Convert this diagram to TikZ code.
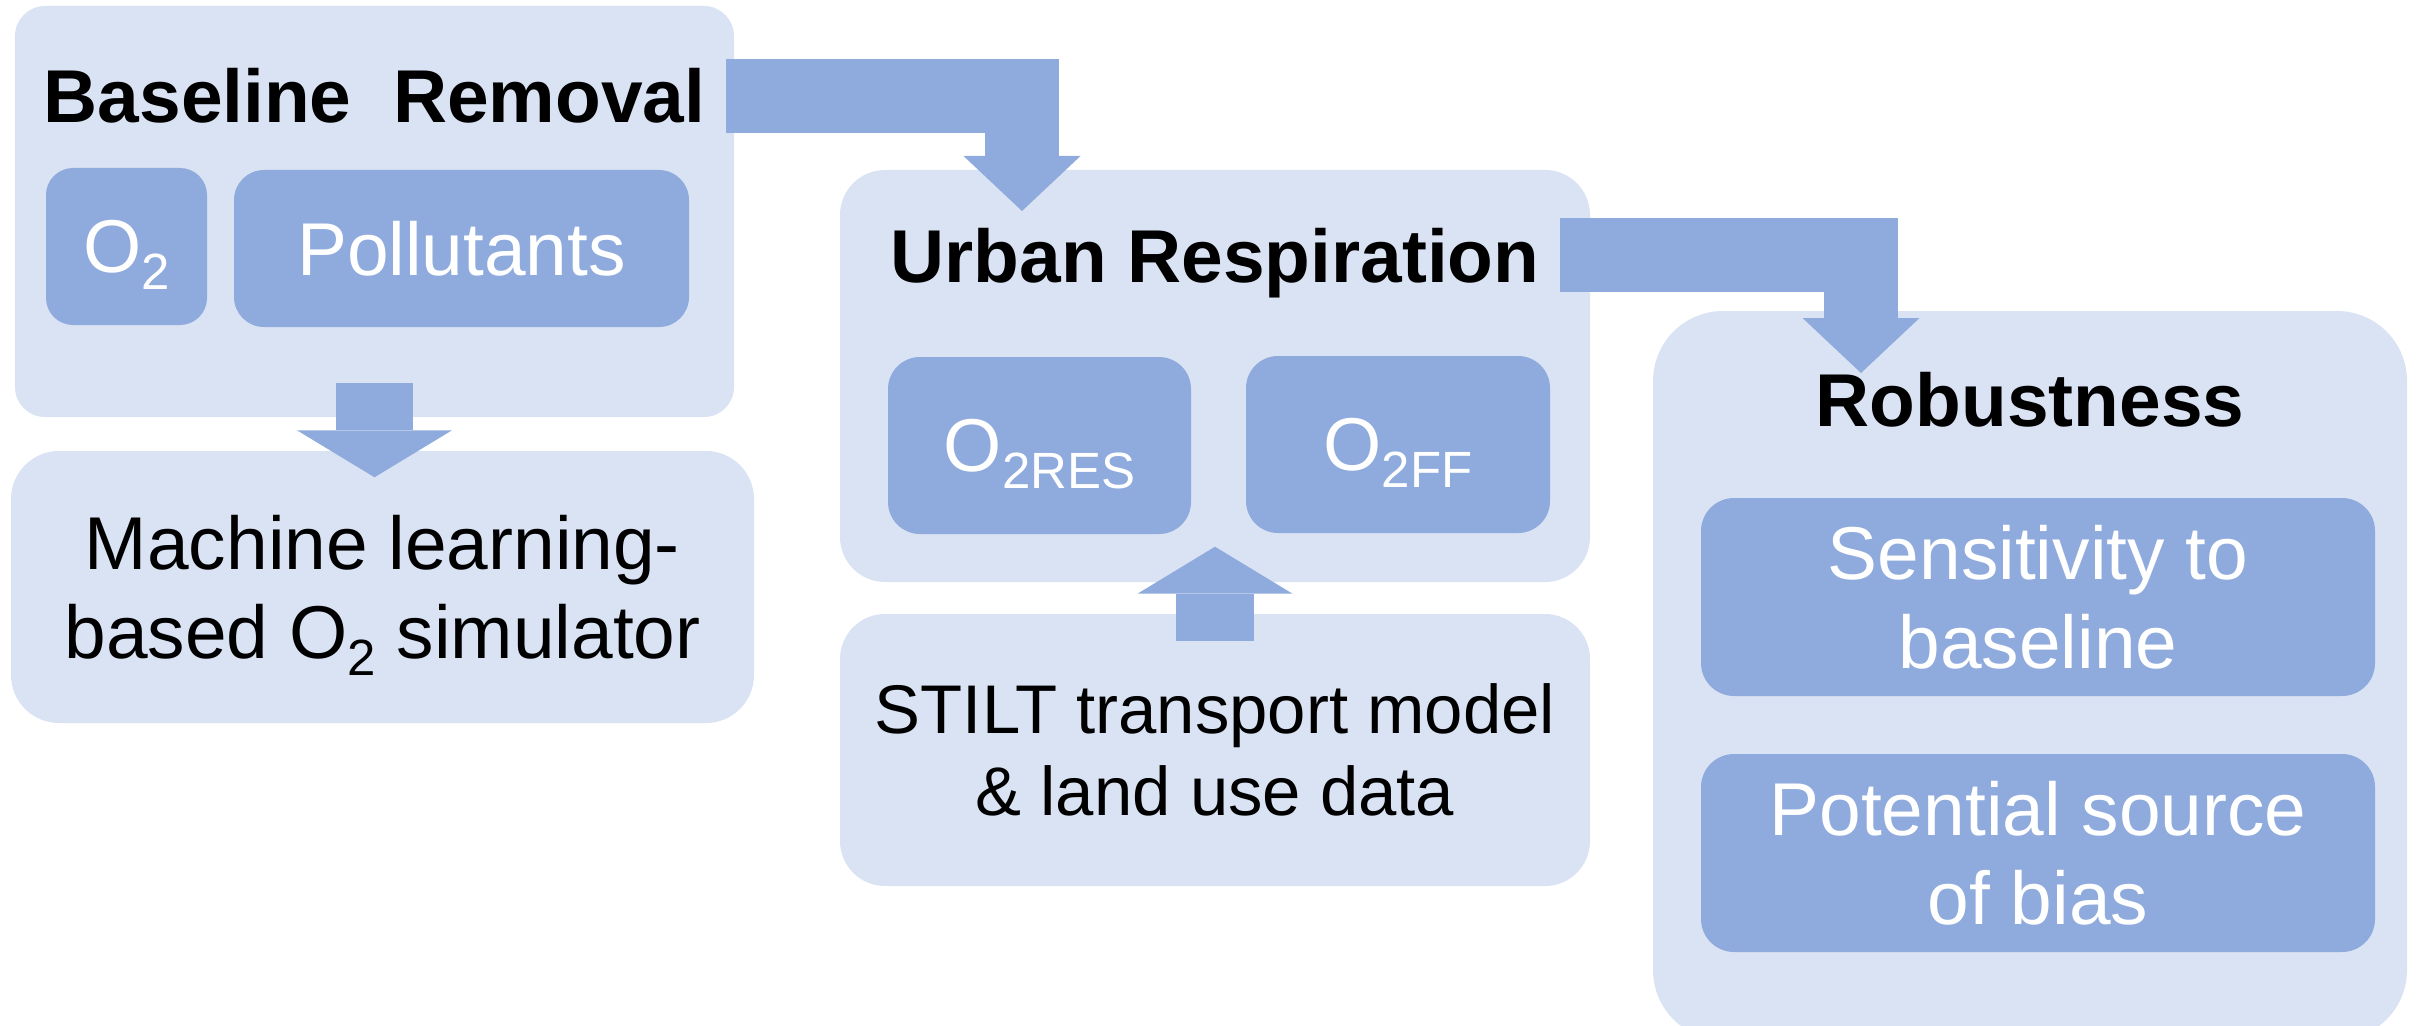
\documentclass[tikz,border=0pt]{standalone}
\usepackage{fontspec}
\setmainfont{Liberation Sans}
\usetikzlibrary{arrows.meta}
\definecolor{paleblue}{HTML}{DAE3F3}
\definecolor{midblue}{HTML}{8FAADC}
% lowered index, e.g. O_2
\newcommand{\lowidx}[1]{\raisebox{-5pt}[0pt][0pt]{\fontsize{14.5pt}{14.5pt}\selectfont #1}}

\begin{document}
\begin{tikzpicture}[
    outerbox/.style={fill=paleblue, inner sep=0pt},
    textbox/.style={outerbox, align=center, font=\fontsize{21.3pt}{25.3pt}\selectfont},
    innerbox/.style={fill=midblue, text=white, inner sep=0pt, align=center,
        font=\fontsize{21.3pt}{25.3pt}\selectfont},
    heading/.style={anchor=base, text depth=0pt, inner xsep=0.2cm,
        font=\fontsize{21.3pt}{25.3pt}\selectfont\bfseries},
    bigarrow/.style={draw=midblue, line width=0.74cm,
        -{Triangle[width=1.17cm,length=0.55cm,line width=0pt]}},
    uparrow/.style={draw=midblue, line width=0.775cm,
        -{Triangle[width=1.55cm,length=0.47cm,line width=0pt]}}
]
    \useasboundingbox (0,0) rectangle (24.2,-10.25);

    % containers
    \node[outerbox, rounded corners=0.3cm, minimum width=7.19cm, minimum height=4.11cm] (br) at (3.745,-2.115) {};
    \node[textbox, rounded corners=0.48cm, minimum width=7.43cm, minimum height=2.72cm] (ml) at (3.825,-5.87)
        {Machine learning-\\based O\lowidx{2} simulator};
    \node[outerbox, rounded corners=0.45cm, minimum width=7.5cm, minimum height=4.12cm] (ur) at (12.15,-3.76) {};
    \node[textbox, rounded corners=0.45cm, minimum width=7.5cm, minimum height=2.72cm,
        font=\fontsize{19.6pt}{23.3pt}\selectfont] (st) at (12.15,-7.5)
        {STILT transport model\\\& land use data};
    \node[outerbox, rounded corners=0.7cm, minimum width=7.54cm, minimum height=7.29cm] (rb) at (20.3,-6.755) {};

    % headings
    \node[heading] (brt) at (3.745,-1.23) {Baseline\ \ Removal};
    \node[heading] (urt) at (12.15,-2.82) {Urban Respiration};
    \node[heading] (rbt) at (20.3,-4.26) {Robustness};

    % arrows
    \coordinate (in1) at (10.22,-2.11);
    \coordinate (in2) at (18.61,-3.73);
    \draw[bigarrow] (brt.east) -| (in1);
    \draw[bigarrow] (urt.east) -| (in2);
    \draw[uparrow, shorten <=-0.35cm, shorten >=-0.27cm] (br.south) -- (br.south |- ml.north);
    \draw[uparrow, shorten <=-0.28cm, shorten >=-0.36cm] (st.north) -- (ur.south);

    % inner boxes
    \node[innerbox, rounded corners=0.27cm, minimum width=1.61cm, minimum height=1.57cm] (o2) at (1.265,-2.465) {O\lowidx{2}};
    \node[innerbox, rounded corners=0.3cm, minimum width=4.55cm, minimum height=1.57cm] (pol) at (4.615,-2.485) {Pollutants};
    \node[innerbox, rounded corners=0.32cm, minimum width=3.03cm, minimum height=1.77cm] (res) at (10.395,-4.455) {O\lowidx{2RES}};
    \node[innerbox, rounded corners=0.32cm, minimum width=3.04cm, minimum height=1.77cm] (ff) at (13.98,-4.445) {O\lowidx{2FF}};
    \node[innerbox, rounded corners=0.33cm, minimum width=6.74cm, minimum height=1.98cm] (sens) at (20.38,-5.97)
        {Sensitivity to\\baseline};
    \node[innerbox, rounded corners=0.33cm, minimum width=6.74cm, minimum height=1.98cm] (bias) at (20.38,-8.53)
        {Potential source\\of bias};
\end{tikzpicture}
\end{document}
